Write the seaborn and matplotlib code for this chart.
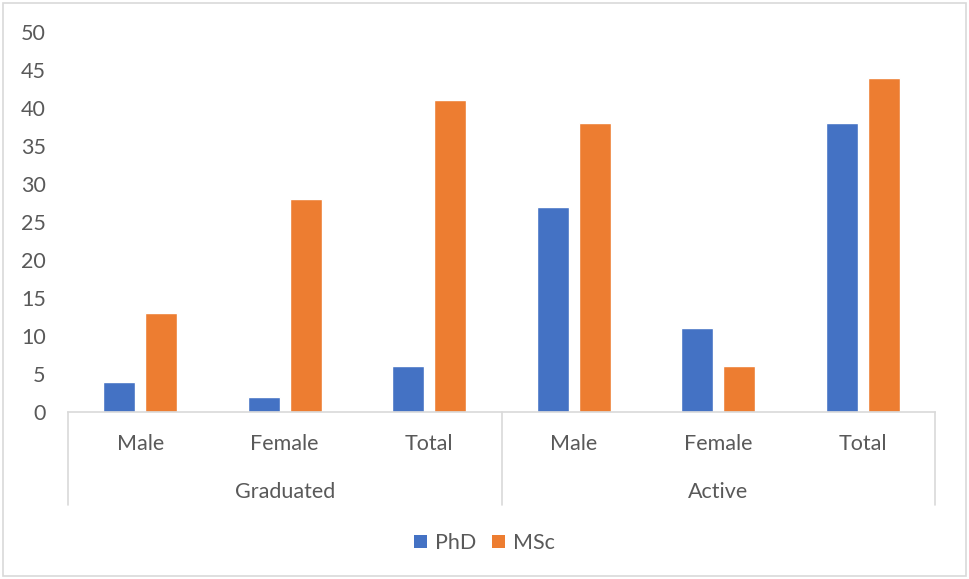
import matplotlib
matplotlib.use("Agg")
import matplotlib.pyplot as plt
from matplotlib.patches import Rectangle, Patch
import seaborn as sns
import pandas as pd

# Data
groups = ["Graduated", "Graduated", "Graduated", "Active", "Active", "Active"]
subgroups = ["Male", "Female", "Total", "Male", "Female", "Total"]
phd = [4, 2, 6, 27, 11, 38]
msc = [13, 28, 41, 38, 6, 44]
series = ["PhD", "MSc"]
colors = ["#4472C4", "#ED7D31"]
yticks = [0, 5, 10, 15, 20, 25, 30, 35, 40, 45, 50]

keys = [f"{g}|{s}" for g, s in zip(groups, subgroups)]
df = pd.DataFrame({
    "key": keys * 2,
    "value": phd + msc,
    "degree": [series[0]] * len(keys) + [series[1]] * len(keys),
})

sns.set_theme(style="white")
plt.rcParams["font.family"] = ["Lato", "DejaVu Sans"]
text_color = "#595959"
line_color = "#D9D9D9"
fs = 15.5

fig = plt.figure(figsize=(9.69, 5.79), dpi=100)
ax = fig.add_axes([68 / 969, 1 - 412 / 579, 867 / 969, 380 / 579])

sns.barplot(data=df, x="key", y="value", hue="degree", order=keys,
            hue_order=series, palette=colors, width=0.575, gap=0.23,
            saturation=1, legend=False, ax=ax)

ax.set_xlim(-0.5, len(keys) - 0.5)
ax.set_ylim(0, 50)
ax.set_yticks(yticks)
ax.set_yticklabels([str(v) for v in yticks], color=text_color, fontsize=fs)
ax.tick_params(axis="y", length=0, pad=16)
ax.set_xticks([])
ax.set_xlabel("")
ax.set_ylabel("")
for side in ["left", "right", "top"]:
    ax.spines[side].set_visible(False)
ax.spines["bottom"].set_color(line_color)
ax.spines["bottom"].set_linewidth(1.2)

# Two-level category axis
trans = ax.get_xaxis_transform()
sep_bottom = -93 / 380
for xpos in [-0.5, 2.5, 5.5]:
    ax.plot([xpos, xpos], [0, sep_bottom], color=line_color, lw=1.2,
            transform=trans, clip_on=False)
for i, s in enumerate(subgroups):
    ax.text(i, -32 / 380, s, transform=trans, ha="center", va="center",
            color=text_color, fontsize=fs)
group_names = ["Graduated", "Active"]
for j, g in enumerate(group_names):
    ax.text(1 + 3 * j, -80 / 380, g, transform=trans, ha="center",
            va="center", color=text_color, fontsize=fs)

# Legend below the chart
handles = [Patch(facecolor=c, edgecolor="none") for c in colors]
fig.legend(handles, series, loc="center", bbox_to_anchor=(0.5, 1 - 543 / 579),
           ncol=2, frameon=False, fontsize=fs, handlelength=0.6,
           handleheight=0.6, handletextpad=0.4, columnspacing=0.7,
           labelcolor=text_color)

# Chart border
fig.patches.append(Rectangle((3 / 969, 3 / 579), 963 / 969, 573 / 579,
                             transform=fig.transFigure, fill=False,
                             edgecolor=line_color, linewidth=1.2))

fig.savefig("out.png", dpi=100, facecolor="white")
